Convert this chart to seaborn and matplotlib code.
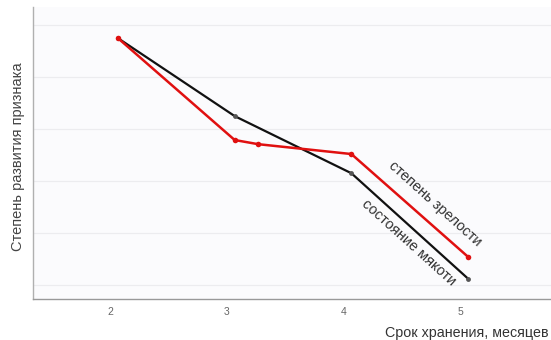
import numpy as np
import matplotlib
matplotlib.use('Agg')
import matplotlib.pyplot as plt
import matplotlib.transforms as mtransforms
import pandas as pd
import seaborn as sns

# data
months_flesh = [2, 3, 4, 5]
flesh_state = [4.75, 3.25, 2.15, 0.12]
months_ripe = [2, 3, 3.2, 4, 5]
ripeness = [4.75, 2.79, 2.71, 2.52, 0.54]
x_ticks = [2, 3, 4, 5]

# building df for seaborn
df_flesh = pd.DataFrame({'x': months_flesh, 'y': flesh_state})
df_ripe = pd.DataFrame({'x': months_ripe, 'y': ripeness})

sns.set_theme(style='white')
plt.rcParams['font.family'] = ['Liberation Sans', 'DejaVu Sans']

fig = plt.figure(figsize=(5.51, 3.40), dpi=100)
ax = fig.add_axes([33 / 551, 1 - 299 / 340, 1 - 33 / 551, (299 - 7) / 340])
ax.set_facecolor('#fbfbfd')

# gridlines
for g in range(6):
    ax.axhline(g, color='#ececef', lw=0.9, zorder=0)

# black line - flesh state
sns.lineplot(data=df_flesh, x='x', y='y', ax=ax, color='#111111',
             lw=1.6, marker='o', markersize=3.5, markeredgewidth=0,
             markerfacecolor='#555555', zorder=3)

# red line - ripeness
sns.lineplot(data=df_ripe, x='x', y='y', ax=ax, color='#e01010',
             lw=1.8, marker='o', markersize=4, markeredgewidth=0,
             markerfacecolor='#e01010', zorder=4)

ax.set_xlim(1.272, 5.71)
ax.set_ylim(-0.27, 5.35)
ax.set_xticks(x_ticks)
ax.set_xticklabels([str(t) for t in x_ticks], color='#666666', fontsize=7.5)
ax.set_yticks([])
ax.tick_params(axis='x', length=0, pad=6)
offset = mtransforms.ScaledTranslation(-8 / 100, 0, fig.dpi_scale_trans)
for lbl in ax.get_xticklabels():
    lbl.set_transform(lbl.get_transform() + offset)

ax.set_xlabel('')
ax.set_ylabel('')
for side in ['top', 'right']:
    ax.spines[side].set_visible(False)
ax.spines['left'].set_color('#b0b0b0')
ax.spines['bottom'].set_color('#999999')
ax.spines['left'].set_linewidth(1.0)
ax.spines['bottom'].set_linewidth(1.0)

# line captions
ax.text(4.72, 1.56, 'степень зрелости', rotation=-42, rotation_mode='anchor',
        ha='center', va='center', fontsize=10.5, color='#333333')
ax.text(4.49, 0.82, 'состояние мякоти', rotation=-42, rotation_mode='anchor',
        ha='center', va='center', fontsize=10.5, color='#333333')

# axis labels
fig.text(0.995, 1 - 333 / 340, 'Срок хранения, месяцев', ha='right', va='center',
         fontsize=10.3, color='#333333')
fig.text(18 / 551, 1 - 157 / 340, 'Степень развития признака', rotation=90,
         ha='center', va='center', fontsize=10.5, color='#444444')

fig.savefig('out.png', dpi=100)
